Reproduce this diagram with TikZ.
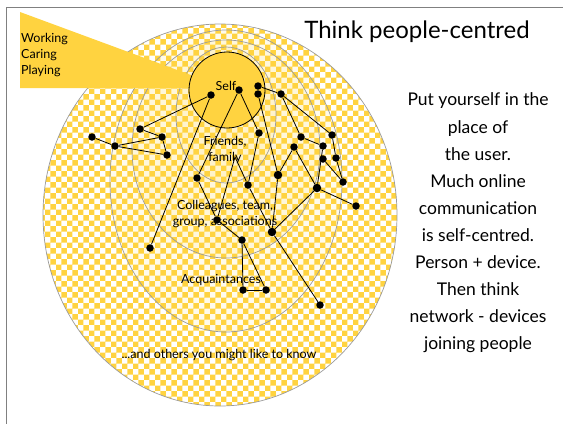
\documentclass[tikz,border=0pt]{standalone}
\usepackage{fontspec}
\setmainfont{Lato}
\usetikzlibrary{patterns}
\definecolor{selfyellow}{RGB}{255,211,64}
\definecolor{ringgray}{RGB}{155,155,155}
\tikzset{
  dot/.style={circle,fill=black,inner sep=0pt,minimum size=7.5pt},
  ring/.style={draw=ringgray,line width=0.7pt},
  link/.style={line width=0.8pt},
  ringtext/.style={font=\fontsize{12.5}{16}\selectfont,align=center,inner sep=1pt}
}

\begin{document}
\begin{tikzpicture}[x=1pt,y=-1pt]
      \useasboundingbox (0,0) rectangle (563,424);
      \draw [gray,line width=1pt] (563,7) -- (6,7) -- (6,424);
      % rings of people
      \draw [ring,pattern=checkerboard,pattern color=selfyellow] (220,215) ellipse [x radius=177,y radius=191];
      \draw [ring,fill=selfyellow,fill opacity=0.1] (226,181) ellipse [x radius=116,y radius=151];
      \draw [ring,fill=selfyellow,fill opacity=0.1] (226,149) ellipse [x radius=94,y radius=109];
      \draw [ring,fill=selfyellow,fill opacity=0.1] (226,115) ellipse [x radius=50,y radius=68];
      \fill [selfyellow] (20,12) -- (20,88) -- (226,88) -- cycle;
      \draw [fill=selfyellow,line width=0.8pt] (227,90) circle [radius=38];
      % people
      \node[dot] (s1) at (211,95) {};
      \node[dot] (s2) at (239,90) {};
      \node[dot] (s3) at (258,86) {};
      \node[dot] (s4) at (258,94) {};
      \node[dot] (l1) at (140,129) {};
      \node[dot] (l2) at (162,137) {};
      \node[dot] (l3) at (115,146) {};
      \node[dot] (l4) at (167,155) {};
      \node[dot] (l5) at (92,137) {};
      \node[dot] (f1) at (259,133) {};
      \node[dot] (f2) at (197,178) {};
      \node[dot] (f3) at (248,185) {};
      \node[dot,minimum size=8.5pt] (f4) at (278,175) {};
      \coordinate (fam) at (235,157);
      \node[dot] (r1) at (281,94) {};
      \node[dot] (r2) at (301,137) {};
      \node[dot] (r3) at (332,135) {};
      \node[dot] (r4) at (294,147) {};
      \node[dot] (r5) at (323,146) {};
      \node[dot] (r6) at (323,159) {};
      \node[dot] (r7) at (336,158) {};
      \node[dot] (r8) at (343,182) {};
      \node[dot,minimum size=8.5pt] (r9) at (317,188) {};
      \node[dot] (r10) at (356,206) {};
      \node[dot] (c1) at (217,220) {};
      \node[dot,minimum size=8.5pt] (c2) at (272,232) {};
      \node[dot] (c3) at (242,240) {};
      \node[dot] (a1) at (150,248) {};
      \node[dot] (a2) at (243,290) {};
      \node[dot] (a3) at (266,290) {};
      \node[dot] (a4) at (320,305) {};
      % links
      \draw [link] (s1) -- (l1);
      \draw [link] (s1) -- (a1);
      \draw [link] (l1) -- (l2);
      \draw [link] (l2) -- (l3);
      \draw [link] (l3) -- (l5);
      \draw [link] (l3) -- (l4);
      \draw [link] (l2) -- (l4);
      \draw [link] (s2) -- (f1);
      \draw [link] (f1) -- (f3);
      \draw [link] (f3) -- (c2);
      \draw [link] (s2) -- (f2);
      \draw [link] (f2) -- (c1);
      \draw [link] (c1) -- (fam) -- (f3);
      \draw [link] (c1) -- (c3);
      \draw [link] (c3) -- (a2);
      \draw [link] (c3) -- (a3);
      \draw [link] (a2) -- (a3);
      \draw [link] (c2) -- (a4);
      \draw [link] (s3) -- (r1);
      \draw [link] (r1) -- (r2);
      \draw [link] (r1) -- (r3);
      \draw [link] (r2) -- (r5);
      \draw [link] (r3) -- (r7);
      \draw [link] (r7) -- (r8);
      \draw [link] (r6) -- (r8);
      \draw [link] (r5) -- (r9);
      \draw [link] (r4) -- (f4);
      \draw [link] (r4) -- (r9);
      \draw [link] (r9) -- (r10);
      \draw [link] (r9) -- (c2);
      \draw [link] (f4) -- (c2);
      \draw [link] (s4) -- (f4);
      % texts
      \node[ringtext] (selftext) at (226,86) {Self};
      \node[ringtext] (friendstext) at (225,150) {Friends,\\family};
      \node[ringtext] (colltext) at (225,214) {Colleagues, team,\\group, associations};
      \node[ringtext] (acqtext) at (221,280) {Acquaintances};
      \node[ringtext] (otherstext) at (219,355) {...and others you might like to know};
      \node[ringtext,anchor=west,align=left] (roles) at (20,55) {Working\\Caring\\Playing};
      \node[font=\fontsize{24}{28}\selectfont] (title) at (417,32) {Think people-centred};
      \node[font=\fontsize{17.5}{27.1}\selectfont,align=center] (notes) at (478,223)
        {Put yourself in the\\place of\\the user.\\Much online\\communication\\is self-centred.\\Person + device.\\Then think\\network - devices\\joining people};
    \end{tikzpicture}
\end{document}
